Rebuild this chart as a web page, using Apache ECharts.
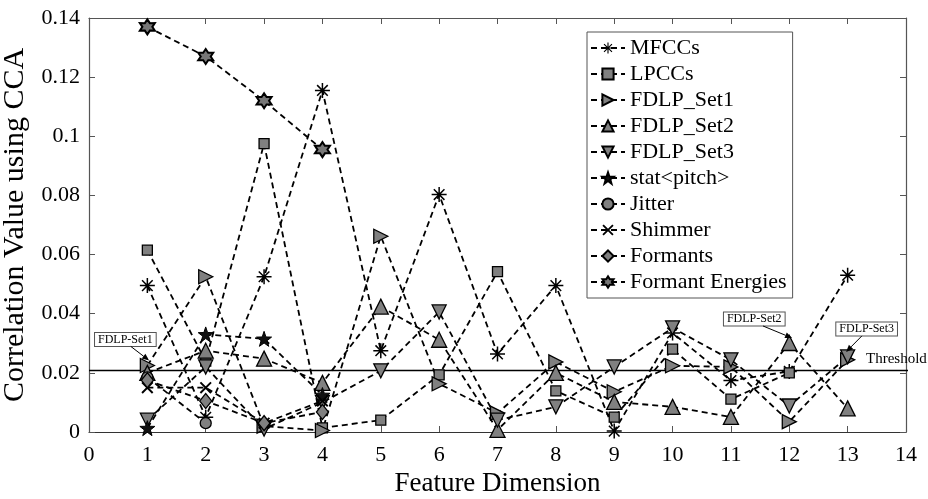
<!DOCTYPE html>
<html>
<head>
<meta charset="utf-8">
<script src="https://cdn.jsdelivr.net/npm/echarts@6/dist/echarts.min.js"></script>
<style>
  html, body { margin: 0; padding: 0; background: #fff; }
  #main { width: 928px; height: 499px; }
</style>
</head>
<body>
<div id="main"></div>
<script>
// 数据
var dims = [1, 2, 3, 4, 5, 6, 7, 8, 9, 10, 11, 12, 13];
var mfccs = [0.0495, 0.005, 0.0525, 0.1155, 0.0275, 0.0803, 0.0264, 0.0495, 0.0003, 0.0335, 0.0174, 0.0205, 0.053];
var lpccs = [0.0615, 0.024, 0.0975, 0.0014, 0.004, 0.0193, 0.0542, 0.0139, 0.005, 0.028, 0.0111, 0.020];
var fdlpSet1 = [0.0225, 0.0525, 0.002, 0.0005, 0.0662, 0.0163, 0.0064, 0.0237, 0.0136, 0.0224, 0.022, 0.0035, 0.0244];
var fdlpSet2 = [0.020, 0.0275, 0.0248, 0.0166, 0.0424, 0.0312, 0.0007, 0.020, 0.0102, 0.0085, 0.0051, 0.0301, 0.008];
var fdlpSet3 = [0.004, 0.022, 0.001, 0.010, 0.0207, 0.0406, 0.004, 0.0085, 0.022, 0.0352, 0.0244, 0.0088, 0.0254];
var statPitch = [0.0013, 0.033, 0.0315, 0.0125];
var jitter = [0.0185, 0.003];
var shimmer = [0.015, 0.015, 0.003, 0.0105];
var formants = [0.0175, 0.0105, 0.003, 0.0068];
var formantEnergies = [0.137, 0.127, 0.112, 0.0955];
var threshold = 0.0208;
var xTicks = [0, 14];
var yTicks = [0, 0.14];

var names = ['MFCCs', 'LPCCs', 'FDLP_Set1', 'FDLP_Set2', 'FDLP_Set3', 'stat<pitch>', 'Jitter', 'Shimmer', 'Formants', 'Formant Energies'];

// 自定义符号
function barsPath(angles, len, w) {
    var s = '';
    angles.forEach(function (a) {
        var r = a * Math.PI / 180;
        var c = Math.cos(r), n = Math.sin(r);
        var pts = [[-len, -w], [len, -w], [len, w], [-len, w]].map(function (p) {
            return [(p[0] * c - p[1] * n + 20).toFixed(2), (p[0] * n + p[1] * c + 20).toFixed(2)];
        });
        s += 'M' + pts[0].join(',') + 'L' + pts[1].join(',') + 'L' + pts[2].join(',') + 'L' + pts[3].join(',') + 'Z';
    });
    return 'path://' + s;
}
function starPath(k, ro, ri) {
    var s = '';
    for (var i = 0; i < 2 * k; i++) {
        var r = i % 2 === 0 ? ro : ri;
        var a = -Math.PI / 2 + i * Math.PI / k;
        s += (i === 0 ? 'M' : 'L') + (20 + r * Math.cos(a)).toFixed(2) + ',' + (20 + r * Math.sin(a)).toFixed(2);
    }
    return 'path://' + s + 'Z';
}
var symAsterisk = barsPath([0, 45, 90, 135], 20, 2.0);
var symCross = barsPath([45, 135], 20, 2.6);
var symRight = 'path://M0,0L10,5L0,10Z';
var symDown = 'path://M0,0L10,0L5,10Z';
var symStar5 = starPath(5, 20, 8);
var symHex = starPath(6, 20, 11.5);

function pairs(arr) {
    return arr.map(function (v, i) { return [dims[i], v]; });
}

var grayItem = { color: '#808080', borderColor: '#000', borderWidth: 1.3 };
var blackItem = { color: '#000', borderWidth: 0 };

function mkSeries(name, data, symbol, size, item) {
    return {
        name: name,
        type: 'line',
        data: pairs(data),
        symbol: symbol,
        symbolSize: size,
        showAllSymbol: true,
        clip: false,
        z: 3,
        itemStyle: item,
        lineStyle: { color: '#000', width: 1.8, type: [6, 4] },
        emphasis: { disabled: true }
    };
}

var serif = "'Liberation Serif', 'Times New Roman', serif";

var echart_1 = echarts.init(document.getElementById('main'));

var option1 = {
    animation: false,
    backgroundColor: '#fff',
    textStyle: { fontFamily: serif },
    grid: { left: 89, right: 22, top: 18, bottom: 67, containLabel: false, outerBoundsMode: 'none' },
    legend: {
        data: names,
        orient: 'vertical',
        left: 587,
        top: 32,
        padding: [5, 6, 5, 3],
        itemWidth: 34,
        itemHeight: 14,
        itemGap: 4,
        backgroundColor: '#fff',
        borderColor: '#555',
        borderWidth: 1,
        borderRadius: 0,
        textStyle: { fontFamily: serif, fontSize: 22, color: '#000', padding: [0, 0, 0, 0] }
    },
    xAxis: [{
        type: 'value',
        min: xTicks[0],
        max: xTicks[1],
        interval: 1,
        name: 'Feature Dimension',
        nameLocation: 'middle',
        nameGap: 37,
        nameTextStyle: { fontFamily: serif, fontSize: 27, color: '#000' },
        axisLine: { show: true, lineStyle: { color: '#333', width: 1.2 } },
        axisTick: { inside: true, length: 6, lineStyle: { color: '#555' } },
        axisLabel: { fontFamily: serif, fontSize: 22, color: '#000', margin: 12 },
        splitLine: { show: false }
    }, {
        type: 'value',
        position: 'top',
        min: xTicks[0],
        max: xTicks[1],
        interval: 1,
        axisLine: { show: true, onZero: false, lineStyle: { color: '#555', width: 1.2 } },
        axisTick: { inside: true, length: 6, lineStyle: { color: '#555' } },
        axisLabel: { show: false },
        splitLine: { show: false }
    }],
    yAxis: [{
        type: 'value',
        min: yTicks[0],
        max: yTicks[1],
        interval: 0.02,
        name: 'Correlation Value using CCA',
        nameLocation: 'middle',
        nameGap: 52,
        nameTextStyle: { fontFamily: serif, fontSize: 30, color: '#000' },
        axisLine: { show: true, lineStyle: { color: '#555', width: 1.2 } },
        axisTick: { inside: true, length: 6, lineStyle: { color: '#555' } },
        axisLabel: { fontFamily: serif, fontSize: 22, color: '#000', margin: 9 },
        splitLine: { show: false }
    }, {
        type: 'value',
        position: 'right',
        min: yTicks[0],
        max: yTicks[1],
        interval: 0.02,
        axisLine: { show: true, onZero: false, lineStyle: { color: '#555', width: 1.2 } },
        axisTick: { inside: true, length: 6, lineStyle: { color: '#555' } },
        axisLabel: { show: false },
        splitLine: { show: false }
    }],
    series: [
        {
            name: 'Threshold',
            type: 'line',
            data: [[0, threshold], [14.25, threshold]],
            symbol: 'none',
            clip: false,
            z: 2,
            lineStyle: { color: '#000', width: 1.5, type: 'solid' },
            emphasis: { disabled: true }
        },
        mkSeries('MFCCs', mfccs, symAsterisk, 15, blackItem),
        mkSeries('LPCCs', lpccs, 'rect', 10, grayItem),
        mkSeries('FDLP_Set1', fdlpSet1, symRight, 14, grayItem),
        mkSeries('FDLP_Set2', fdlpSet2, 'triangle', 15, grayItem),
        mkSeries('FDLP_Set3', fdlpSet3, symDown, 14, grayItem),
        mkSeries('stat<pitch>', statPitch, symStar5, 15, { color: '#111', borderColor: '#000', borderWidth: 1 }),
        mkSeries('Jitter', jitter, 'circle', 11, grayItem),
        mkSeries('Shimmer', shimmer, symCross, 12, blackItem),
        mkSeries('Formants', formants, 'diamond', [12, 15], grayItem),
        mkSeries('Formant Energies', formantEnergies, symHex, 15, { color: '#777', borderColor: '#000', borderWidth: 2 })
    ]
};

echart_1.setOption(option1);

// 标注框与箭头
function px(x, y) {
    return echart_1.convertToPixel({ xAxisIndex: 0, yAxisIndex: 0 }, [x, y]);
}
function note(text, target, dx, dy) {
    var cx = target[0] + dx, cy = target[1] + dy;
    var sx = cx + dx * -0.25, sy = cy + 7;
    var ex = target[0] - dx * 0.08, ey = target[1] - 5;
    var ang = Math.atan2(ey - sy, ex - sx);
    var hl = 7, hw = 3;
    var bx = ex - hl * Math.cos(ang), by = ey - hl * Math.sin(ang);
    return [{
        type: 'text',
        z: 10,
        style: {
            x: cx, y: cy, text: text, align: 'center', verticalAlign: 'middle',
            fontFamily: serif, fontSize: 12, fill: '#000',
            backgroundColor: '#fff', borderColor: '#555', borderWidth: 1,
            padding: [1, 3, 0, 3]
        }
    }, {
        type: 'line',
        z: 10,
        shape: { x1: sx, y1: sy, x2: bx, y2: by },
        style: { stroke: '#000', lineWidth: 1 }
    }, {
        type: 'polygon',
        z: 10,
        shape: {
            points: [[ex, ey],
                [bx + hw * Math.sin(ang), by - hw * Math.cos(ang)],
                [bx - hw * Math.sin(ang), by + hw * Math.cos(ang)]]
        },
        style: { fill: '#000' }
    }];
}

var pThr = px(14, threshold);
var g = [].concat(
    note('FDLP-Set1', px(1, fdlpSet1[0]), -22, -26),
    note('FDLP-Set2', px(12, fdlpSet2[11]), -35, -24),
    note('FDLP-Set3', px(13, fdlpSet3[12]), 19, -28),
    [{
        type: 'text',
        z: 10,
        style: {
            x: pThr[0] - 40, y: pThr[1] - 4, text: 'Threshold',
            fontFamily: serif, fontSize: 15, fill: '#000',
            verticalAlign: 'bottom', align: 'left'
        }
    }]
);
echart_1.setOption({ graphic: g });
</script>
</body>
</html>
